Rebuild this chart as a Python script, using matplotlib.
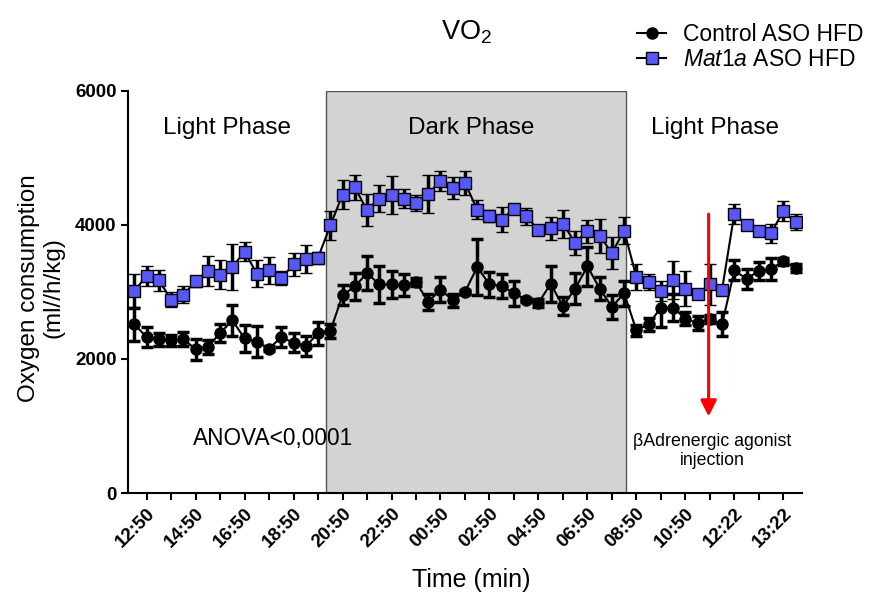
import matplotlib
matplotlib.use('Agg')
import matplotlib.pyplot as plt
from matplotlib.lines import Line2D
import numpy as np

plt.rcParams['font.family'] = ['Liberation Sans', 'DejaVu Sans']
plt.rcParams['mathtext.fontset'] = 'custom'
plt.rcParams['mathtext.rm'] = 'Liberation Sans'
plt.rcParams['mathtext.it'] = 'Liberation Sans:italic'

# Datos (un punto cada 30 min)
control_mean = [2515, 2325, 2290, 2280, 2295, 2145, 2180, 2385, 2575, 2305,
                2255, 2155, 2325, 2240, 2190, 2380, 2415, 2950, 3080, 3280,
                3110, 3110, 3095, 3145, 2850, 3035, 2875, 3000, 3370, 3110,
                3090, 2980, 2885, 2835, 3120, 2785, 3050, 3380, 3050, 2775,
                2980, 2425, 2515, 2765, 2765, 2600, 2535, 2600, 2515, 3320,
                3195, 3310, 3345, 3455, 3360]
control_sem = [243, 149, 90, 80, 104, 154, 100, 129, 233, 199,
               233, 40, 149, 139, 149, 174, 104, 149, 199, 248,
               283, 199, 164, 60, 124, 189, 99, 30, 422, 184,
               179, 189, 30, 60, 273, 134, 233, 288, 174, 174,
               189, 80, 99, 288, 200, 100, 100, 60, 179, 149,
               149, 134, 164, 50, 60]
mat1a_mean = [3020, 3235, 3170, 2885, 2960, 3155, 3305, 3255, 3370, 3600,
              3270, 3320, 3205, 3410, 3485, 3510, 3990, 4450, 4560, 4215,
              4390, 4450, 4390, 4325, 4460, 4660, 4550, 4625, 4225, 4125,
              4075, 4240, 4125, 3925, 3945, 4015, 3735, 3905, 3835, 3580,
              3915, 3220, 3145, 3020, 3170, 3050, 2975, 3110, 3035, 4165,
              4000, 3915, 3875, 4205, 4040]
mat1a_sem = [248, 144, 159, 109, 124, 80, 223, 213, 347, 144,
             199, 199, 104, 169, 208, 90, 213, 218, 184, 238,
             199, 283, 139, 114, 283, 149, 159, 184, 139, 90,
             189, 30, 129, 50, 169, 208, 179, 169, 253, 238,
             208, 199, 119, 149, 283, 263, 50, 308, 50, 149,
             60, 40, 144, 149, 114]
tick_labels = ['12:50', '14:50', '16:50', '18:50', '20:50', '22:50', '00:50',
               '02:50', '04:50', '06:50', '08:50', '10:50', '12:22', '13:22']

BLUE = '#5858f8'
x = np.arange(len(control_mean))

fig = plt.figure(figsize=(8.77, 5.96), dpi=100)
ax = fig.add_axes([0.1463, 0.1728, 0.7678, 0.675])

# Fase oscura
ax.axvspan(15.67, 40.16, ymin=0, ymax=1, facecolor='#d3d3d3',
           edgecolor='#555555', linewidth=1, zorder=0)

ax.errorbar(x, control_mean, yerr=control_sem, fmt='-o', color='black',
            markersize=8, linewidth=1.5, elinewidth=2.5, capsize=4.5,
            capthick=2.5, zorder=2)
ax.errorbar(x, mat1a_mean, yerr=mat1a_sem, fmt='-s', color='black',
            markerfacecolor=BLUE, markeredgecolor='black',
            markeredgewidth=1, markersize=9, linewidth=1.5, elinewidth=2.5,
            capsize=4.5, capthick=2.5, zorder=3)

# Inyección
ax.annotate('', xy=(46.9, 1100), xytext=(46.9, 4200),
            arrowprops=dict(arrowstyle='-|>', color='red', lw=2.2,
                            mutation_scale=24), zorder=4)

ax.text(7.6, 5440, 'Light Phase', ha='center', va='center', fontsize=17.5)
ax.text(27.5, 5440, 'Dark Phase', ha='center', va='center', fontsize=17.5)
ax.text(47.4, 5440, 'Light Phase', ha='center', va='center', fontsize=17.5)
ax.text(11.3, 820, 'ANOVA<0,0001', ha='center', va='center', fontsize=16.3)
ax.text(47.2, 626, 'βAdrenergic agonist\ninjection', ha='center',
        va='center', fontsize=12.8, linespacing=1.15)

ax.set_xlim(-0.5, 54.5)
ax.set_ylim(0, 6000)
ax.set_yticks([0, 2000, 4000, 6000])
ax.set_yticklabels(['0', '2000', '4000', '6000'], fontweight='bold',
                   fontsize=13.5)

ticks = np.arange(1, 54, 2)
ax.set_xticks(ticks)
labels = []
for i, t in enumerate(ticks):
    labels.append(tick_labels[i // 2] if i % 2 == 0 else '')
ax.set_xticklabels(labels, rotation=45, ha='right', rotation_mode='anchor',
                   fontweight='bold', fontsize=13.5)

ax.spines['top'].set_visible(False)
ax.spines['right'].set_visible(False)
ax.spines['left'].set_linewidth(1.5)
ax.spines['bottom'].set_linewidth(1.5)
ax.tick_params(axis='both', direction='out', width=1.5, length=5)

fig.text(0.537, 0.027, 'Time (min)', ha='center', va='center', fontsize=18)
fig.text(0.047, 0.517, 'Oxygen consumption\n(ml//h/kg)', rotation=90,
         ha='center', va='center', fontsize=17.5, multialignment='center',
         linespacing=1.1)

fig.text(0.532, 0.946, r'VO$_2$', ha='center', va='center', fontsize=19.5)

handles = [Line2D([], [], color='black', marker='o', markersize=8, lw=1.5),
           Line2D([], [], color='black', marker='s', markersize=9, lw=1.5,
                  markerfacecolor=BLUE, markeredgecolor='black')]
ax.legend(handles, ['Control ASO HFD', r'$\mathit{Mat1a}$ ASO HFD'],
          loc='upper left', bbox_to_anchor=(0.726, 0.962),
          bbox_transform=fig.transFigure, frameon=False, fontsize=16.5,
          handlelength=1.3, handletextpad=0.7, borderpad=0,
          borderaxespad=0, labelspacing=0.1)

plt.savefig('out.png', dpi=100)
